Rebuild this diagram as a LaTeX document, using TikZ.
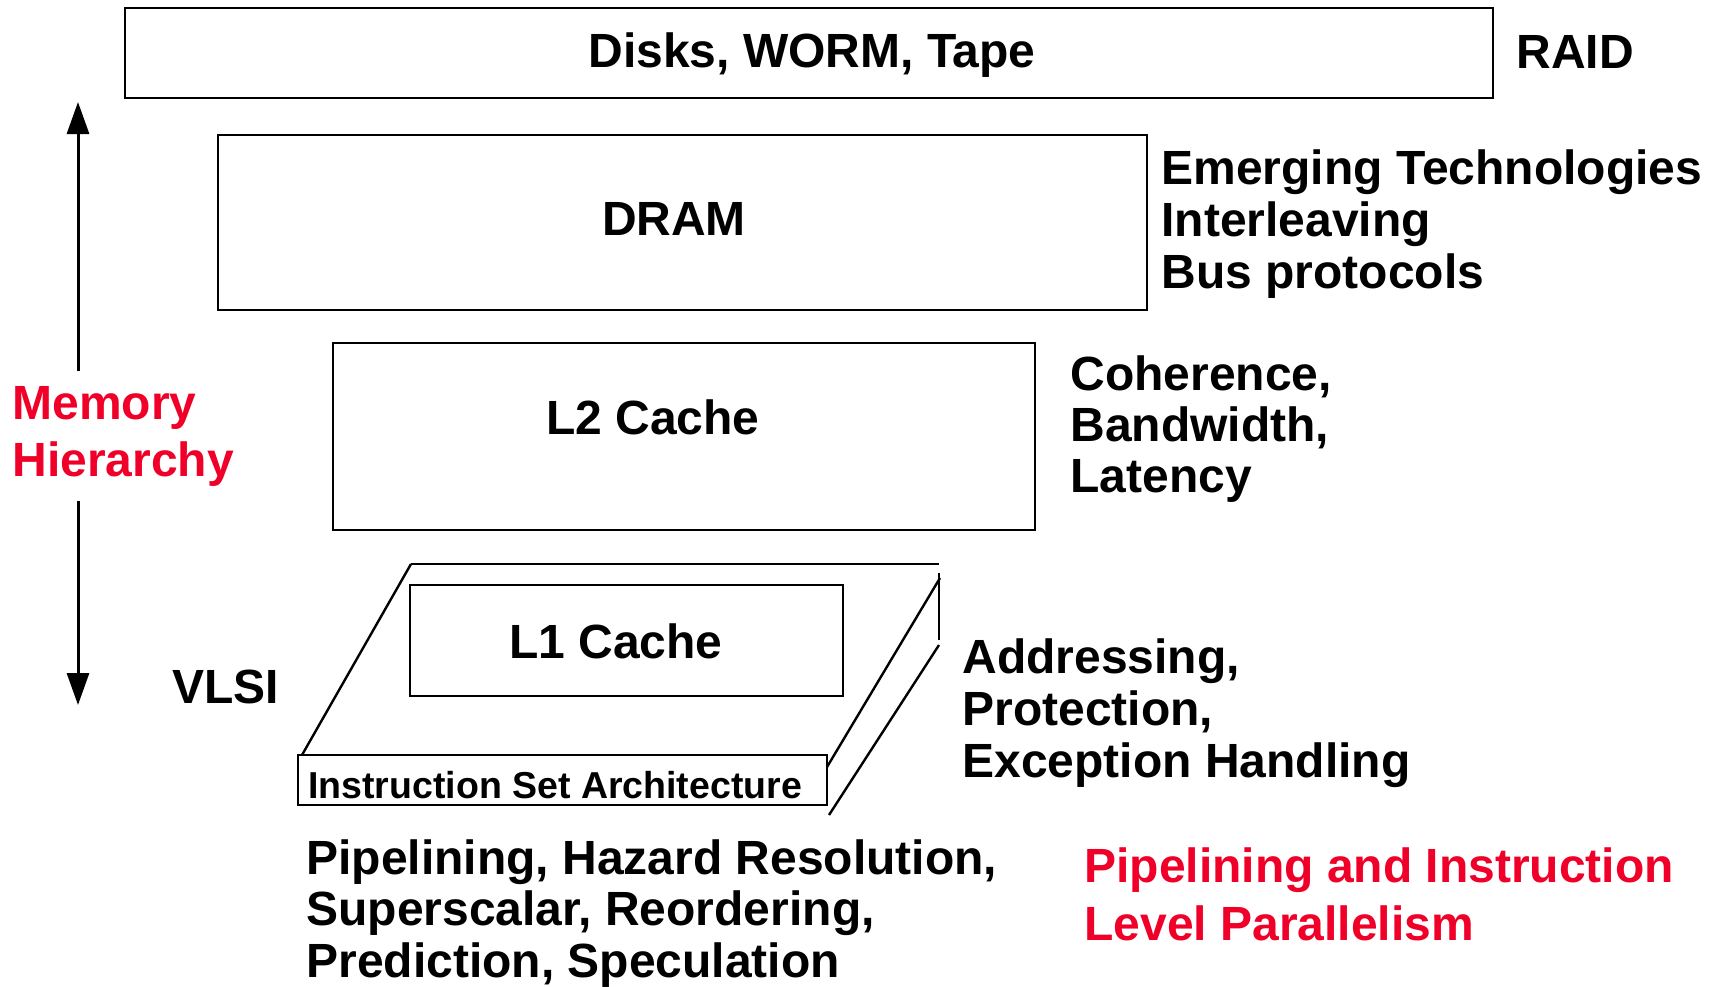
\documentclass[tikz,border=0pt]{standalone}
\usepackage{fontspec}
\setmainfont{Liberation Sans}
\usetikzlibrary{arrows.meta}
\definecolor{hired}{RGB}{240,0,40}
\begin{document}
\begin{tikzpicture}[x=1pt,y=-1pt,
  box/.style={draw, line width=2.4pt, inner sep=0pt, outer sep=0pt},
  edge/.style={line width=2.4pt},
  lbl/.style={font=\fontsize{48}{52}\selectfont\bfseries, inner sep=0pt, outer sep=0pt},
  side/.style={lbl, anchor=base west},
  hot/.style={side, text=hired},
  isatext/.style={font=\fontsize{37.5}{40}\selectfont\bfseries, inner sep=0pt, anchor=base west},
  hier/.style={line width=3pt, -{Triangle[length=32pt,width=22pt]}}
]
\fill[white] (0,0) rectangle (1719,986);
\useasboundingbox (0,0) rectangle (1719,986);

% storage levels
\node[box, minimum width=1368pt, minimum height=90pt]  (disks) at (809,53)    {};
\node[box, minimum width=929pt,  minimum height=175pt] (dram)  at (682.5,222.5) {};
\node[box, minimum width=702pt,  minimum height=187pt] (l2)    at (684,436.5) {};

% processor slab
\coordinate (slabTL) at (411,564);
\coordinate (slabTR) at (939,564);
\coordinate (sideT)  at (939,573);
\coordinate (sideB)  at (939,640);
\coordinate (slantA) at (940,578);
\coordinate (slantB) at (939,645);
\coordinate (footA)  at (827,767);
\coordinate (footB)  at (829,815);
\coordinate (footL)  at (302,755);
\draw[edge] (slabTL) -- (slabTR);
\draw[edge] (sideT) -- (sideB);
\draw[edge] (slabTL) -- (footL);
\draw[edge] (slantA) -- (footA);
\draw[edge] (slantB) -- (footB);
\node[box, fill=white, minimum width=433pt, minimum height=111pt] (l1)  at (626.5,640.5) {};
\node[box, minimum width=529pt, minimum height=50pt]  (isa) at (562.5,780) {};

% level names
\node[lbl, anchor=base] (tdisks) at (812,67)  {Disks, WORM, Tape};
\node[lbl, anchor=base] (tdram)  at (674,235) {DRAM};
\node[lbl, anchor=base] (tl2)    at (653,434) {L2 Cache};
\node[lbl, anchor=base] (tl1)    at (616,658) {L1 Cache};
\node[isatext] (tisa) at (308,798) {Instruction Set Architecture};

% topics beside each level
\node[side] (raid) at (1516.5,68) {RAID};
\node[side] (em1) at (1161.5,184) {Emerging Technologies};
\node[side] (em2) at (1161.5,236) {Interleaving};
\node[side] (em3) at (1161.5,288) {Bus protocols};
\node[side] (co1) at (1070.5,390) {Coherence,};
\node[side] (co2) at (1070.5,441) {Bandwidth,};
\node[side] (co3) at (1070.5,492) {Latency};
\node[side] (ad1) at (962.5,673) {Addressing,};
\node[side] (ad2) at (962.5,725) {Protection,};
\node[side] (ad3) at (962.5,777) {Exception Handling};
\node[side] (vlsi) at (172.5,703) {VLSI};
\node[side] (pp1) at (306.5,874) {Pipelining, Hazard Resolution,};
\node[side] (pp2) at (306.5,925) {Superscalar, Reordering,};
\node[side] (pp3) at (306.5,977) {Prediction, Speculation};
\node[hot] (ilp1) at (1084.5,882) {Pipelining and Instruction};
\node[hot] (ilp2) at (1084.5,940) {Level Parallelism};
\node[hot] (mh1) at (12.5,419) {Memory};
\node[hot] (mh2) at (12.5,476) {Hierarchy};

% hierarchy arrows
\coordinate (upTail)   at (78,371);
\coordinate (upTip)    at (78,102);
\coordinate (downTail) at (78,501);
\coordinate (downTip)  at (78,705);
\draw[hier] (upTail) -- (upTip);
\draw[hier] (downTail) -- (downTip);
\end{tikzpicture}
\end{document}
